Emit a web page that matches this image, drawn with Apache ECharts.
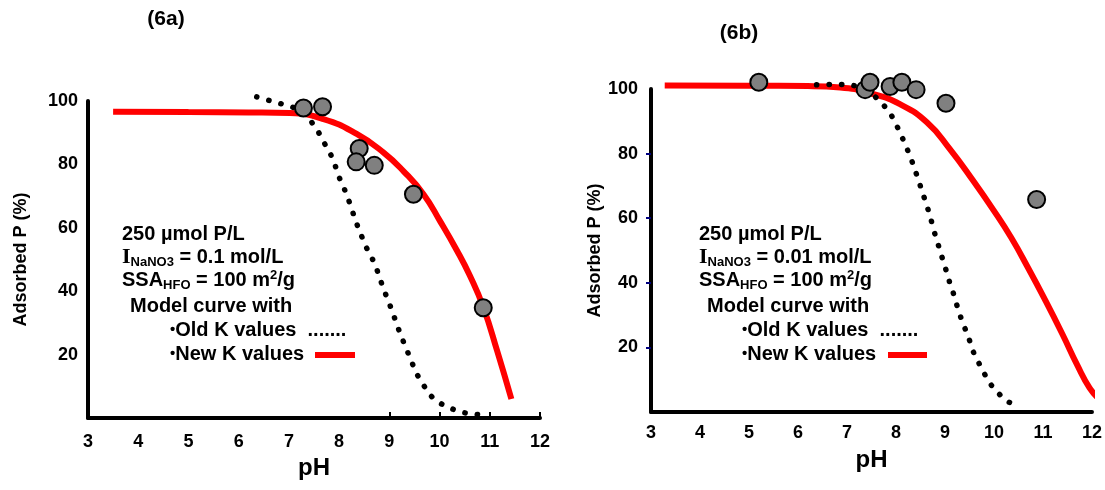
<!DOCTYPE html>
<html><head><meta charset="utf-8">
<script src="https://cdn.jsdelivr.net/npm/echarts@6/dist/echarts.min.js"></script>
<style>html,body{margin:0;padding:0;background:#fff}#c{width:1105px;height:490px}</style>
</head><body><div id="c"></div>
<script>
// ---------- data ----------
const xTickValues = [3, 4, 5, 6, 7, 8, 9, 10, 11, 12];
const yTickValues = [20, 40, 60, 80, 100];

// (6a) measured points
const measA_pH  = [7.29, 7.67, 8.40, 8.34, 8.70, 9.48, 10.87];
const measA_ads = [97.8, 98.2, 85.0, 80.8, 79.7, 70.6, 34.8];
// (6a) model, new K values
const newA_pH  = [3.5, 5.0, 6.2, 7.02, 7.69, 8.35, 8.88, 9.28, 9.68, 10.01, 10.34, 10.6, 10.87, 11.15, 11.43];
const newA_ads = [96.6, 96.5, 96.4, 96.2, 94.3, 89.6, 83.8, 77.9, 70.6, 62.1, 53.0, 45.0, 35.0, 21.0, 6.0];
// (6a) model, old K values
const oldA_pH  = [6.36, 6.6, 6.85, 7.1, 7.3, 7.44, 7.59, 7.71, 7.83, 7.92, 8.0, 8.1, 8.19, 8.27, 8.35, 8.44, 8.54, 8.65, 8.75, 8.83, 8.91, 9.0, 9.09, 9.17, 9.26, 9.35, 9.44, 9.54, 9.67, 9.81, 10.01, 10.23, 10.48, 10.72, 10.96];
const oldA_ads = [101.3, 100.2, 99.1, 97.9, 96.0, 93.6, 90.1, 86.6, 83.2, 79.7, 76.0, 72.4, 68.7, 65.0, 61.3, 57.7, 53.9, 50.6, 46.9, 43.2, 39.7, 36.1, 32.2, 28.6, 24.9, 21.4, 17.9, 14.1, 10.7, 7.3, 4.7, 3.0, 1.7, 1.2, 0.6];

// (6b) measured points
const measB_pH  = [5.2, 7.37, 7.47, 7.88, 8.12, 8.41, 9.02, 10.87];
const measB_ads = [102.1, 99.8, 102.1, 100.8, 102.1, 99.8, 95.6, 65.8];
// (6b) model, new K values
const newB_pH  = [3.28, 5.0, 6.2, 6.86, 7.54, 8.08, 8.63, 9.1, 9.58, 9.99, 10.35, 10.7, 11.05, 11.4, 11.7, 11.95, 12.15];
const newB_ads = [101.1, 101.0, 100.9, 100.5, 98.4, 95.3, 89.7, 81.4, 71.5, 62.5, 54.0, 44.5, 34.5, 24.0, 14.5, 7.5, 4.0];
// (6b) model, old K values
const oldB_pH  = [6.38, 6.63, 6.87, 7.1, 7.38, 7.56, 7.74, 7.89, 8.01, 8.12, 8.22, 8.31, 8.4, 8.48, 8.56, 8.64, 8.71, 8.8, 8.88, 8.94, 9.02, 9.09, 9.17, 9.24, 9.32, 9.41, 9.5, 9.58, 9.69, 9.81, 9.95, 10.11, 10.3, 10.53];
const oldB_ads = [101.3, 101.4, 101.4, 101.2, 99.8, 97.8, 95.1, 92.2, 88.8, 85.2, 81.7, 78.3, 74.4, 70.8, 67.1, 63.4, 59.8, 54.8, 50.9, 47.9, 44.0, 40.4, 36.8, 33.2, 29.4, 25.8, 22.2, 18.6, 15.2, 11.7, 8.2, 5.5, 3.1, 1.5];

const panelTitles = ['(6a)', '(6b)'];
const ionicStrength = ['0.1', '0.01'];

// ---------- chart ----------
const zip = (a, b) => a.map((v, i) => [v, b[i]]);
const F = '"Liberation Sans", Arial, Helvetica, sans-serif';
const SERIF = '"Liberation Serif", "Times New Roman", serif';

function xAxisCfg(idx, ticks, margin) {
  return {
    gridIndex: idx, type: 'value', min: 3, max: 12, interval: 1,
    axisLine: { onZero: false, lineStyle: { color: '#000', width: 4 } },
    axisTick: ticks ? { show: true, inside: true, length: 6, customValues: [9, 10, 11, 12], lineStyle: { color: '#000', width: 2 } } : { show: false },
    axisLabel: { customValues: xTickValues, color: '#000', fontSize: 18, fontWeight: 'bold', fontFamily: F, margin: margin },
    splitLine: { show: false },
    name: 'pH', nameLocation: 'middle', nameGap: 36,
    nameTextStyle: { color: '#000', fontSize: 24, fontWeight: 'bold', fontFamily: F }
  };
}
function yAxisCfg(idx, ticks, margin, gap) {
  return {
    gridIndex: idx, type: 'value', min: 0, max: 100, interval: 20,
    axisLine: { onZero: false, lineStyle: { color: '#000', width: 4 } },
    axisTick: ticks ? { show: true, inside: false, length: 5, customValues: [20, 40, 60, 80], lineStyle: { color: '#000080', width: 2 } } : { show: false },
    axisLabel: { customValues: yTickValues, color: '#000', fontSize: 18, fontWeight: 'bold', fontFamily: F, margin: margin },
    splitLine: { show: false },
    name: 'Adsorbed P (%)', nameLocation: 'middle', nameRotate: 90, nameGap: gap,
    nameTextStyle: { color: '#000', fontSize: 18, fontWeight: 'bold', fontFamily: F }
  };
}
function newLine(idx, data) {
  return { type: 'line', xAxisIndex: idx, yAxisIndex: idx, data: data, smooth: 0.5, symbol: 'none', clip: false,
    lineStyle: { color: '#ff0000', width: 6 }, z: 2 };
}
function oldLine(idx, data) {
  return { type: 'line', xAxisIndex: idx, yAxisIndex: idx, data: data, smooth: 0.3, symbol: 'none', clip: false,
    lineStyle: { color: '#000', width: 5.5, type: [0.3, 12.2], cap: 'round' }, z: 3 };
}
function meas(idx, data) {
  return { type: 'scatter', xAxisIndex: idx, yAxisIndex: idx, data: data, symbolSize: 17, clip: false,
    itemStyle: { color: '#808080', borderColor: '#000', borderWidth: 2, opacity: 1 }, z: 5 };
}

const rich = {
  t: { fontSize: 20, fontWeight: 'bold', fontFamily: F, fill: '#000' },
  i: { fontSize: 22, fontWeight: 'bold', fontFamily: SERIF, fill: '#000' },
  s: { fontSize: 13, fontWeight: 'bold', fontFamily: F, fill: '#000', padding: [10, 0, 0, 0] },
  p: { fontSize: 13, fontWeight: 'bold', fontFamily: F, fill: '#000', padding: [0, 0, 10, 0] },
  b: { fontSize: 15, fontWeight: 'bold', fontFamily: F, fill: '#000' }
};
function txt(x, y, text) {
  return { type: 'text', x: x, y: y, z: 10,
    style: { text: text, rich: rich, align: 'left', verticalAlign: 'middle', fill: '#000',
      fontSize: 20, fontWeight: 'bold', fontFamily: F } };
}
function annotation(x0, xBullet, barX, k) {
  return [
    txt(x0, 234, '{t|250 µmol P/L}'),
    txt(x0, 257, '{i|I}{s|NaNO3}{t| = ' + ionicStrength[k] + ' mol/L}'),
    txt(x0, 280, '{t|SSA}{s|HFO}{t| = 100 m}{p|2}{t|/g}'),
    txt(x0 + 8, 306, '{t|Model curve with}'),
    txt(xBullet, 330, '{b|•}{t|Old K values  .......}'),
    txt(xBullet, 354, '{b|•}{t|New K values}'),
    { type: 'line', z: 10, shape: { x1: barX[0], y1: 355, x2: barX[1], y2: 355 },
      style: { stroke: '#ff0000', lineWidth: 6 } }
  ];
}

const chart = echarts.init(document.getElementById('c'), null, { renderer: 'canvas' });
chart.setOption({
  animation: false,
  backgroundColor: '#fff',
  grid: [
    { left: 88, top: 101, width: 452, height: 317, containLabel: false },
    { left: 651, top: 89, width: 441, height: 323, containLabel: false }
  ],
  xAxis: [xAxisCfg(0, true, 15), xAxisCfg(1, false, 12)],
  yAxis: [yAxisCfg(0, false, 10, 58), yAxisCfg(1, true, 13, 45)],
  series: [
    newLine(0, zip(newA_pH, newA_ads)),
    oldLine(0, zip(oldA_pH, oldA_ads)),
    meas(0, zip(measA_pH, measA_ads)),
    newLine(1, zip(newB_pH, newB_ads)),
    oldLine(1, zip(oldB_pH, oldB_ads)),
    meas(1, zip(measB_pH, measB_ads))
  ],
  graphic: [
    { type: 'text', x: 166, y: 19, style: { text: panelTitles[0], align: 'center', verticalAlign: 'middle', fill: '#000', fontSize: 21, fontWeight: 'bold', fontFamily: F } },
    { type: 'text', x: 739, y: 33, style: { text: panelTitles[1], align: 'center', verticalAlign: 'middle', fill: '#000', fontSize: 21, fontWeight: 'bold', fontFamily: F } },
    ...annotation(122, 170, [315, 355], 0),
    ...annotation(699, 742, [888, 927], 1)
  ]
});
</script></body></html>
